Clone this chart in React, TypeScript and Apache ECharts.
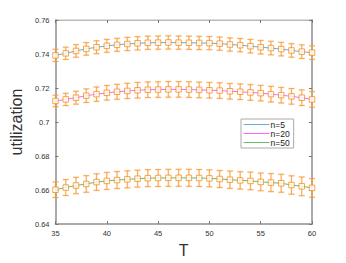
import React, { useEffect, useRef } from "react";
import * as echarts from "echarts";

const T = [35, 36, 37, 38, 39, 40, 41, 42, 43, 44, 45, 46, 47, 48, 49, 50, 51, 52, 53, 54, 55, 56, 57, 58, 59, 60];

const n5 = [0.7392, 0.7404, 0.7418, 0.7430, 0.7440, 0.7448, 0.7454, 0.7459, 0.7463, 0.7466, 0.7467, 0.7468, 0.7467, 0.7466, 0.7465, 0.7464, 0.7461, 0.7456, 0.7452, 0.7446, 0.7440, 0.7435, 0.7429, 0.7421, 0.7414, 0.7408];
const n5Err = [0.0036, 0.0036, 0.0037, 0.0037, 0.0038, 0.0038, 0.0038, 0.0039, 0.0039, 0.0039, 0.0039, 0.0039, 0.0039, 0.0039, 0.0039, 0.0039, 0.0039, 0.0039, 0.0039, 0.0040, 0.0040, 0.0040, 0.0040, 0.0040, 0.0040, 0.0040];

const n20 = [0.7124, 0.7133, 0.7143, 0.7155, 0.7164, 0.7172, 0.7178, 0.7183, 0.7187, 0.7190, 0.7191, 0.7192, 0.7192, 0.7191, 0.7189, 0.7187, 0.7185, 0.7181, 0.7178, 0.7174, 0.7170, 0.7164, 0.7158, 0.7151, 0.7143, 0.7133];
const n20Err = [0.0034, 0.0036, 0.0038, 0.0040, 0.0042, 0.0043, 0.0044, 0.0045, 0.0046, 0.0046, 0.0046, 0.0046, 0.0046, 0.0046, 0.0046, 0.0046, 0.0046, 0.0046, 0.0046, 0.0046, 0.0046, 0.0046, 0.0046, 0.0046, 0.0046, 0.0046];

const n50 = [0.6602, 0.6615, 0.6627, 0.6636, 0.6647, 0.6654, 0.6659, 0.6663, 0.6667, 0.6670, 0.6671, 0.6672, 0.6672, 0.6672, 0.6671, 0.6669, 0.6665, 0.6661, 0.6657, 0.6654, 0.6648, 0.6644, 0.6640, 0.6630, 0.6622, 0.6613];
const n50Err = [0.0046, 0.0047, 0.0048, 0.0049, 0.0049, 0.0050, 0.0050, 0.0050, 0.0050, 0.0050, 0.0050, 0.0050, 0.0050, 0.0050, 0.0050, 0.0050, 0.0050, 0.0051, 0.0051, 0.0052, 0.0052, 0.0053, 0.0053, 0.0054, 0.0055, 0.0055];

const names = ["n=5", "n=20", "n=50"];
const lineColors = ["#6aaedc", "#ff66ff", "#6cbb6c"];

const FONT = "Liberation Sans";
const ORANGE = "#f5901e";

function errData(vals: number[], errs: number[]) {
  return T.map((t, i) => [t, vals[i] - errs[i], vals[i] + errs[i]]);
}

function errSeries(vals: number[], errs: number[], color: string, width: number, z: number) {
  return {
    type: "custom",
    z,
    silent: true,
    data: errData(vals, errs),
    encode: { x: 0, y: [1, 2] },
    renderItem: (params: any, api: any) => {
      const x = api.value(0);
      const lo = api.value(1);
      const hi = api.value(2);
      const top = api.coord([x, hi]);
      const bot = api.coord([x, lo]);
      const hw = 3;
      const style = { stroke: color, lineWidth: width, fill: "none" };
      return {
        type: "group",
        children: [
          { type: "line", shape: { x1: top[0], y1: top[1], x2: bot[0], y2: bot[1] }, style },
          { type: "line", shape: { x1: top[0] - hw, y1: top[1], x2: top[0] + hw, y2: top[1] }, style },
          { type: "line", shape: { x1: bot[0] - hw, y1: bot[1], x2: bot[0] + hw, y2: bot[1] }, style },
        ],
      };
    },
  };
}

export default function App() {
  const ref = useRef<HTMLDivElement>(null);
  useEffect(() => {
    if (!ref.current) return;
    const chart = echarts.init(ref.current, null, { renderer: "svg" });
    const all = [n5, n20, n50];
    const errs = [n5Err, n20Err, n50Err];
    const series: any[] = [];
    all.forEach((vals, k) => {
      series.push({
        name: names[k],
        type: "line",
        data: T.map((t, i) => [t, vals[i]]),
        symbol: "none",
        lineStyle: { color: lineColors[k], width: 1 },
        itemStyle: { color: lineColors[k] },
        z: 6,
      });
    });
    all.forEach((vals, k) => {
      series.push(errSeries(vals, errs[k], "rgba(252,190,130,0.35)", 2, 3));
      series.push(errSeries(vals, errs[k], "rgba(245,144,30,0.85)", 0.8, 4));
    });
    all.forEach((vals) => {
      series.push({
        type: "scatter",
        data: T.map((t, i) => [t, vals[i]]),
        symbol: "rect",
        symbolSize: 5.5,
        itemStyle: { color: "#ffffff", borderColor: ORANGE, borderWidth: 1 },
        z: 7,
        silent: true,
      });
    });

    const axisLine = { show: true, lineStyle: { color: "#aaaaaa", width: 2 } };
    chart.setOption({
      animation: false,
      grid: { left: 45, right: 34, top: 20, bottom: 35, show: true, borderColor: "#bbbbbb", borderWidth: 1 },
      legend: {
        data: names,
        orient: "vertical",
        left: 241,
        top: 119,
        itemWidth: 26,
        itemHeight: 10,
        itemGap: 0,
        padding: [1, 4, 1, 2],
        backgroundColor: "#ffffff",
        borderColor: "#aaaaaa",
        borderWidth: 1,
        itemStyle: { opacity: 0 },
        lineStyle: { width: 1 },
        textStyle: { fontSize: 8.5, color: "#222", fontFamily: FONT, padding: [0, 0, 0, -4] },
      },
      xAxis: [
        {
          type: "value",
          min: 35,
          max: 60,
          interval: 5,
          name: "T",
          nameLocation: "middle",
          nameGap: 17,
          nameTextStyle: { fontSize: 16, color: "#333", fontFamily: FONT },
          axisLine,
          axisTick: { inside: true, length: 3, lineStyle: { color: "#777" } },
          axisLabel: { fontSize: 7.5, color: "#333", fontFamily: FONT, margin: 5 },
          splitLine: { show: false },
        },
        {
          type: "value",
          position: "top",
          min: 35,
          max: 60,
          interval: 5,
          axisLine: { show: true, lineStyle: { color: "#bbbbbb", width: 1 } },
          axisTick: { inside: true, length: 3, lineStyle: { color: "#777" } },
          axisLabel: { show: false },
          splitLine: { show: false },
        },
      ],
      yAxis: [
        {
          type: "value",
          min: 0.64,
          max: 0.76,
          interval: 0.02,
          name: "utilization",
          nameLocation: "middle",
          nameGap: 22,
          nameTextStyle: { fontSize: 16, color: "#333", fontFamily: FONT },
          axisLine,
          axisTick: { inside: true, length: 3, lineStyle: { color: "#777" } },
          axisLabel: { fontSize: 7.5, color: "#333", fontFamily: FONT, margin: 6 },
          splitLine: { show: false },
        },
        {
          type: "value",
          position: "right",
          min: 0.64,
          max: 0.76,
          interval: 0.02,
          axisLine,
          axisTick: { inside: true, length: 3, lineStyle: { color: "#777" } },
          axisLabel: { show: false },
          splitLine: { show: false },
        },
      ],
      series,
    });
    return () => chart.dispose();
  }, []);
  return <div ref={ref} style={{ width: 346, height: 263, position: "fixed", left: 0, top: 0, background: "#fff" }} />;
}
